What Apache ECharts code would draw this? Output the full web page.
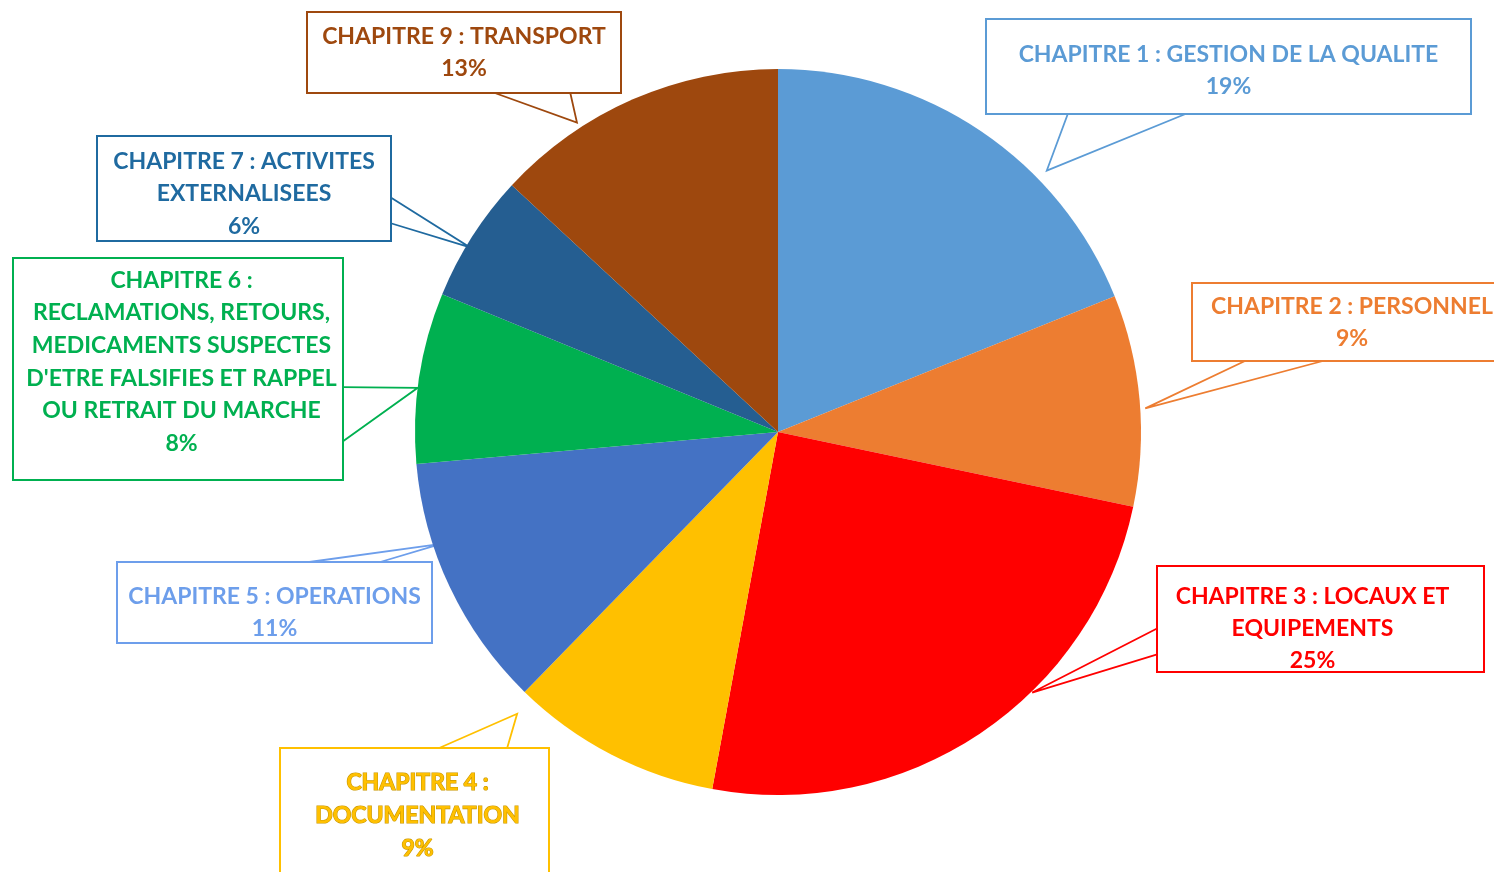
<!DOCTYPE html>
<html>
<head>
<meta charset="utf-8">
<script src="https://cdn.jsdelivr.net/npm/echarts@6/dist/echarts.min.js"></script>
<style>
  html, body { margin: 0; padding: 0; background: #ffffff; }
  #chart { width: 1494px; height: 872px; }
</style>
</head>
<body>
<div id="chart"></div>
<script>
// ---- Data ----
const categories = [
  'CHAPITRE 1 : GESTION DE LA QUALITE',
  'CHAPITRE 2 : PERSONNEL',
  'CHAPITRE 3 : LOCAUX ET EQUIPEMENTS',
  'CHAPITRE 4 : DOCUMENTATION',
  'CHAPITRE 5 : OPERATIONS',
  "CHAPITRE 6 : RECLAMATIONS, RETOURS, MEDICAMENTS SUSPECTES D'ETRE FALSIFIES ET RAPPEL OU RETRAIT DU MARCHE",
  'CHAPITRE 7 : ACTIVITES EXTERNALISEES',
  'CHAPITRE 9 : TRANSPORT'
];
const labelTexts = [
  'CHAPITRE 1 : GESTION DE LA QUALITE',
  'CHAPITRE 2 : PERSONNEL',
  'CHAPITRE 3 : LOCAUX ET\nEQUIPEMENTS',
  'CHAPITRE 4 :\nDOCUMENTATION',
  'CHAPITRE 5 : OPERATIONS',
  "CHAPITRE 6 :\nRECLAMATIONS, RETOURS,\nMEDICAMENTS SUSPECTES\nD'ETRE FALSIFIES ET RAPPEL\nOU RETRAIT DU MARCHE",
  'CHAPITRE 7 : ACTIVITES\nEXTERNALISEES',
  'CHAPITRE 9 : TRANSPORT'
];
// shares (labels show them rounded)
const percentages = [18.9, 9.4, 24.6, 9.4, 11.3, 7.6, 5.7, 13.1];

const sliceColors = ['#5B9BD5', '#ED7D31', '#FF0000', '#FFC000', '#4472C4', '#00B050', '#255E91', '#9E480E'];
const labelColors = ['#5B9BD5', '#ED7D31', '#FF0000', '#FFC000', '#6D9EEB', '#00B050', '#1F6AA0', '#9E480E'];

// ---- Layout of the pie and the callout boxes ----
const PIE_CX = 778, PIE_CY = 432, PIE_R = 363;
const boxLayout = [
  { cx: 1228.5, top: 20,  w: 483, h: 64,  pad: [19, 0, 10, 0], lh: 32,   edge: 'bottom', f1: 0.168, f2: 0.416, tipFrac: 0.673, tipR: 375 },
  { cx: 1352,   top: 284, w: 318, h: 64,  pad: [7, 0, 5, 0],   lh: 32,   edge: 'bottom', f1: 0.17,  f2: 0.42,  tipFrac: 0.54,  tipR: 368 },
  { cx: 1320.5, top: 567, w: 309, h: 90,  pad: [14, 16, 0, 0], lh: 32,   edge: 'left',   f1: 0.587, f2: 0.837, tipFrac: 0.382, tipR: 364 },
  { cx: 414.5,  top: 749, w: 261, h: 114, pad: [17, 0, 0, 6],  lh: 33,   edge: 'top',    f1: 0.584, f2: 0.846, tipFrac: 0.956, tipR: 384 },
  { cx: 274.5,  top: 563, w: 313, h: 61,  pad: [18, 0, 0, 0],  lh: 32,   edge: 'top',    f1: 0.588, f2: 0.827, tipFrac: 0.672, tipR: 355 },
  { cx: 178,    top: 259, w: 321, h: 195, pad: [5, 0, 20, 7],  lh: 32.6, edge: 'right',  f1: 0.582, f2: 0.832, tipFrac: 0.44,  tipR: 363 },
  { cx: 244,    top: 137, w: 292, h: 95,  pad: [8, 0, 0, 0],   lh: 32.5, edge: 'right',  f1: 0.583, f2: 0.835, tipFrac: 0.42,  tipR: 359 },
  { cx: 464,    top: 13,  w: 312, h: 64,  pad: [8, 0, 7, 0],   lh: 32,   edge: 'bottom', f1: 0.59,  f2: 0.84,  tipFrac: 0.30,  tipR: 369 }
];

const total = percentages.reduce((a, b) => a + b, 0);
const cumStart = [];
percentages.reduce((acc, v, i) => { cumStart[i] = acc; return acc + v; }, 0);

function tipPoint(i) {
  const b = boxLayout[i];
  const a = (cumStart[i] + b.tipFrac * percentages[i]) / total * 2 * Math.PI;
  return [PIE_CX + b.tipR * Math.sin(a), PIE_CY - b.tipR * Math.cos(a)];
}
function edgePoint(left, top, w, h, edge, f) {
  if (edge === 'bottom') return [left + f * w, top + h];
  if (edge === 'top') return [left + f * w, top];
  if (edge === 'left') return [left, top + f * h];
  return [left + w, top + f * h];
}

const chart = echarts.init(document.getElementById('chart'), null, { renderer: 'canvas' });

const seriesData = categories.map((name, i) => {
  const b = boxLayout[i];
  const label = {
    color: labelColors[i],
    borderColor: labelColors[i],
    width: b.w,
    height: b.h,
    padding: b.pad,
    lineHeight: b.lh
  };
  if (i === 3) {
    label.textBorderColor = '#C99700';
    label.textBorderWidth = 1.2;
  }
  return {
    name: name,
    value: percentages[i],
    itemStyle: { color: sliceColors[i] },
    label: label,
    labelLine: { lineStyle: { color: labelColors[i] } }
  };
});

const option = {
  backgroundColor: '#ffffff',
  animation: false,
  series: [{
    type: 'pie',
    center: [PIE_CX, PIE_CY],
    radius: PIE_R,
    startAngle: 90,
    clockwise: true,
    avoidLabelOverlap: false,
    itemStyle: { borderWidth: 0 },
    emphasis: { disabled: true },
    label: {
      show: true,
      position: 'outside',
      formatter: (p) => labelTexts[p.dataIndex] + '\n' + Math.round(p.value) + '%',
      fontFamily: 'Lato, "Open Sans", sans-serif',
      fontWeight: 'bold',
      fontSize: 23,
      align: 'center',
      backgroundColor: '#ffffff',
      borderWidth: 2,
      overflow: 'none'
    },
    labelLine: {
      show: true,
      length: 20,
      length2: 10,
      smooth: false,
      lineStyle: { width: 1.8 }
    },
    labelLayout: function (params) {
      const i = params.dataIndex;
      const b = boxLayout[i];
      const ow = b.w + b.pad[1] + b.pad[3];
      const oh = b.h + b.pad[0] + b.pad[2];
      const left = b.cx - ow / 2;
      const p1 = edgePoint(left, b.top, ow, oh, b.edge, b.f1);
      const p2 = edgePoint(left, b.top, ow, oh, b.edge, b.f2);
      return {
        x: b.cx,
        y: b.top,
        align: 'center',
        verticalAlign: 'top',
        labelLinePoints: [p1, tipPoint(i), p2]
      };
    },
    data: seriesData
  }]
};

chart.setOption(option);
</script>
</body>
</html>
